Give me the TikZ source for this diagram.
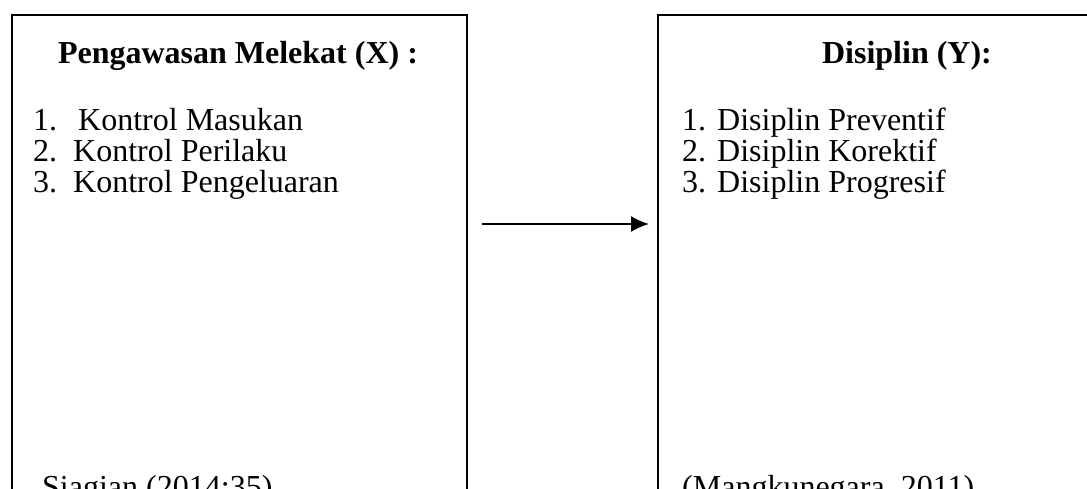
\documentclass[tikz,border=0pt]{standalone}
\usepackage{fontspec}
\setmainfont{Liberation Serif}
\usetikzlibrary{arrows.meta}
\begin{document}
\begin{tikzpicture}[x=1pt,y=1pt,
  frame/.style={draw=black,line width=2pt,anchor=north west,inner sep=0pt,outer sep=0pt},
  txt/.style={anchor=base west,inner sep=0pt,font=\fontsize{32}{38}\selectfont},
  head/.style={anchor=base,inner sep=0pt,font=\fontsize{32}{38}\selectfont\bfseries},
  link/.style={line width=2pt,-{Latex[length=18pt,width=16pt]}}]
\clip (0,0) rectangle (1087,-489);
\fill[white] (0,0) rectangle (1087,-489);
% boxes
\node[frame,minimum width=455pt,minimum height=540pt] (lbox) at (12,-15) {};
\node[frame,minimum width=460pt,minimum height=540pt] (rbox) at (658,-15) {};
% headings
\node[head] (lt) at (238,-64) {Pengawasan Melekat (X) :};
\node[head] (rt) at (907,-64) {Disiplin (Y):};
% left items
\node[txt] (l1n) at (33,-131) {1.};
\node[txt] (l1) at (78,-131) {Kontrol Masukan};
\node[txt] (l2n) at (33,-162) {2.};
\node[txt] (l2) at (73,-162) {Kontrol Perilaku};
\node[txt] (l3n) at (33,-193) {3.};
\node[txt] (l3) at (73,-193) {Kontrol Pengeluaran};
% right items
\node[txt] (r1n) at (682,-131) {1.};
\node[txt] (r1) at (717,-131) {Disiplin Preventif};
\node[txt] (r2n) at (682,-162) {2.};
\node[txt] (r2) at (717,-162) {Disiplin Korektif};
\node[txt] (r3n) at (682,-193) {3.};
\node[txt] (r3) at (717,-193) {Disiplin Progresif};
% sources
\node[txt] (ls) at (42,-497) {Siagian (2014:35)};
\node[txt] (rs) at (682,-497) {(Mangkunegara, 2011)};
% arrow
\coordinate (as) at (482,-224);
\coordinate (ae) at (649,-224);
\draw[link] (as) -- (ae);
\end{tikzpicture}
\end{document}
